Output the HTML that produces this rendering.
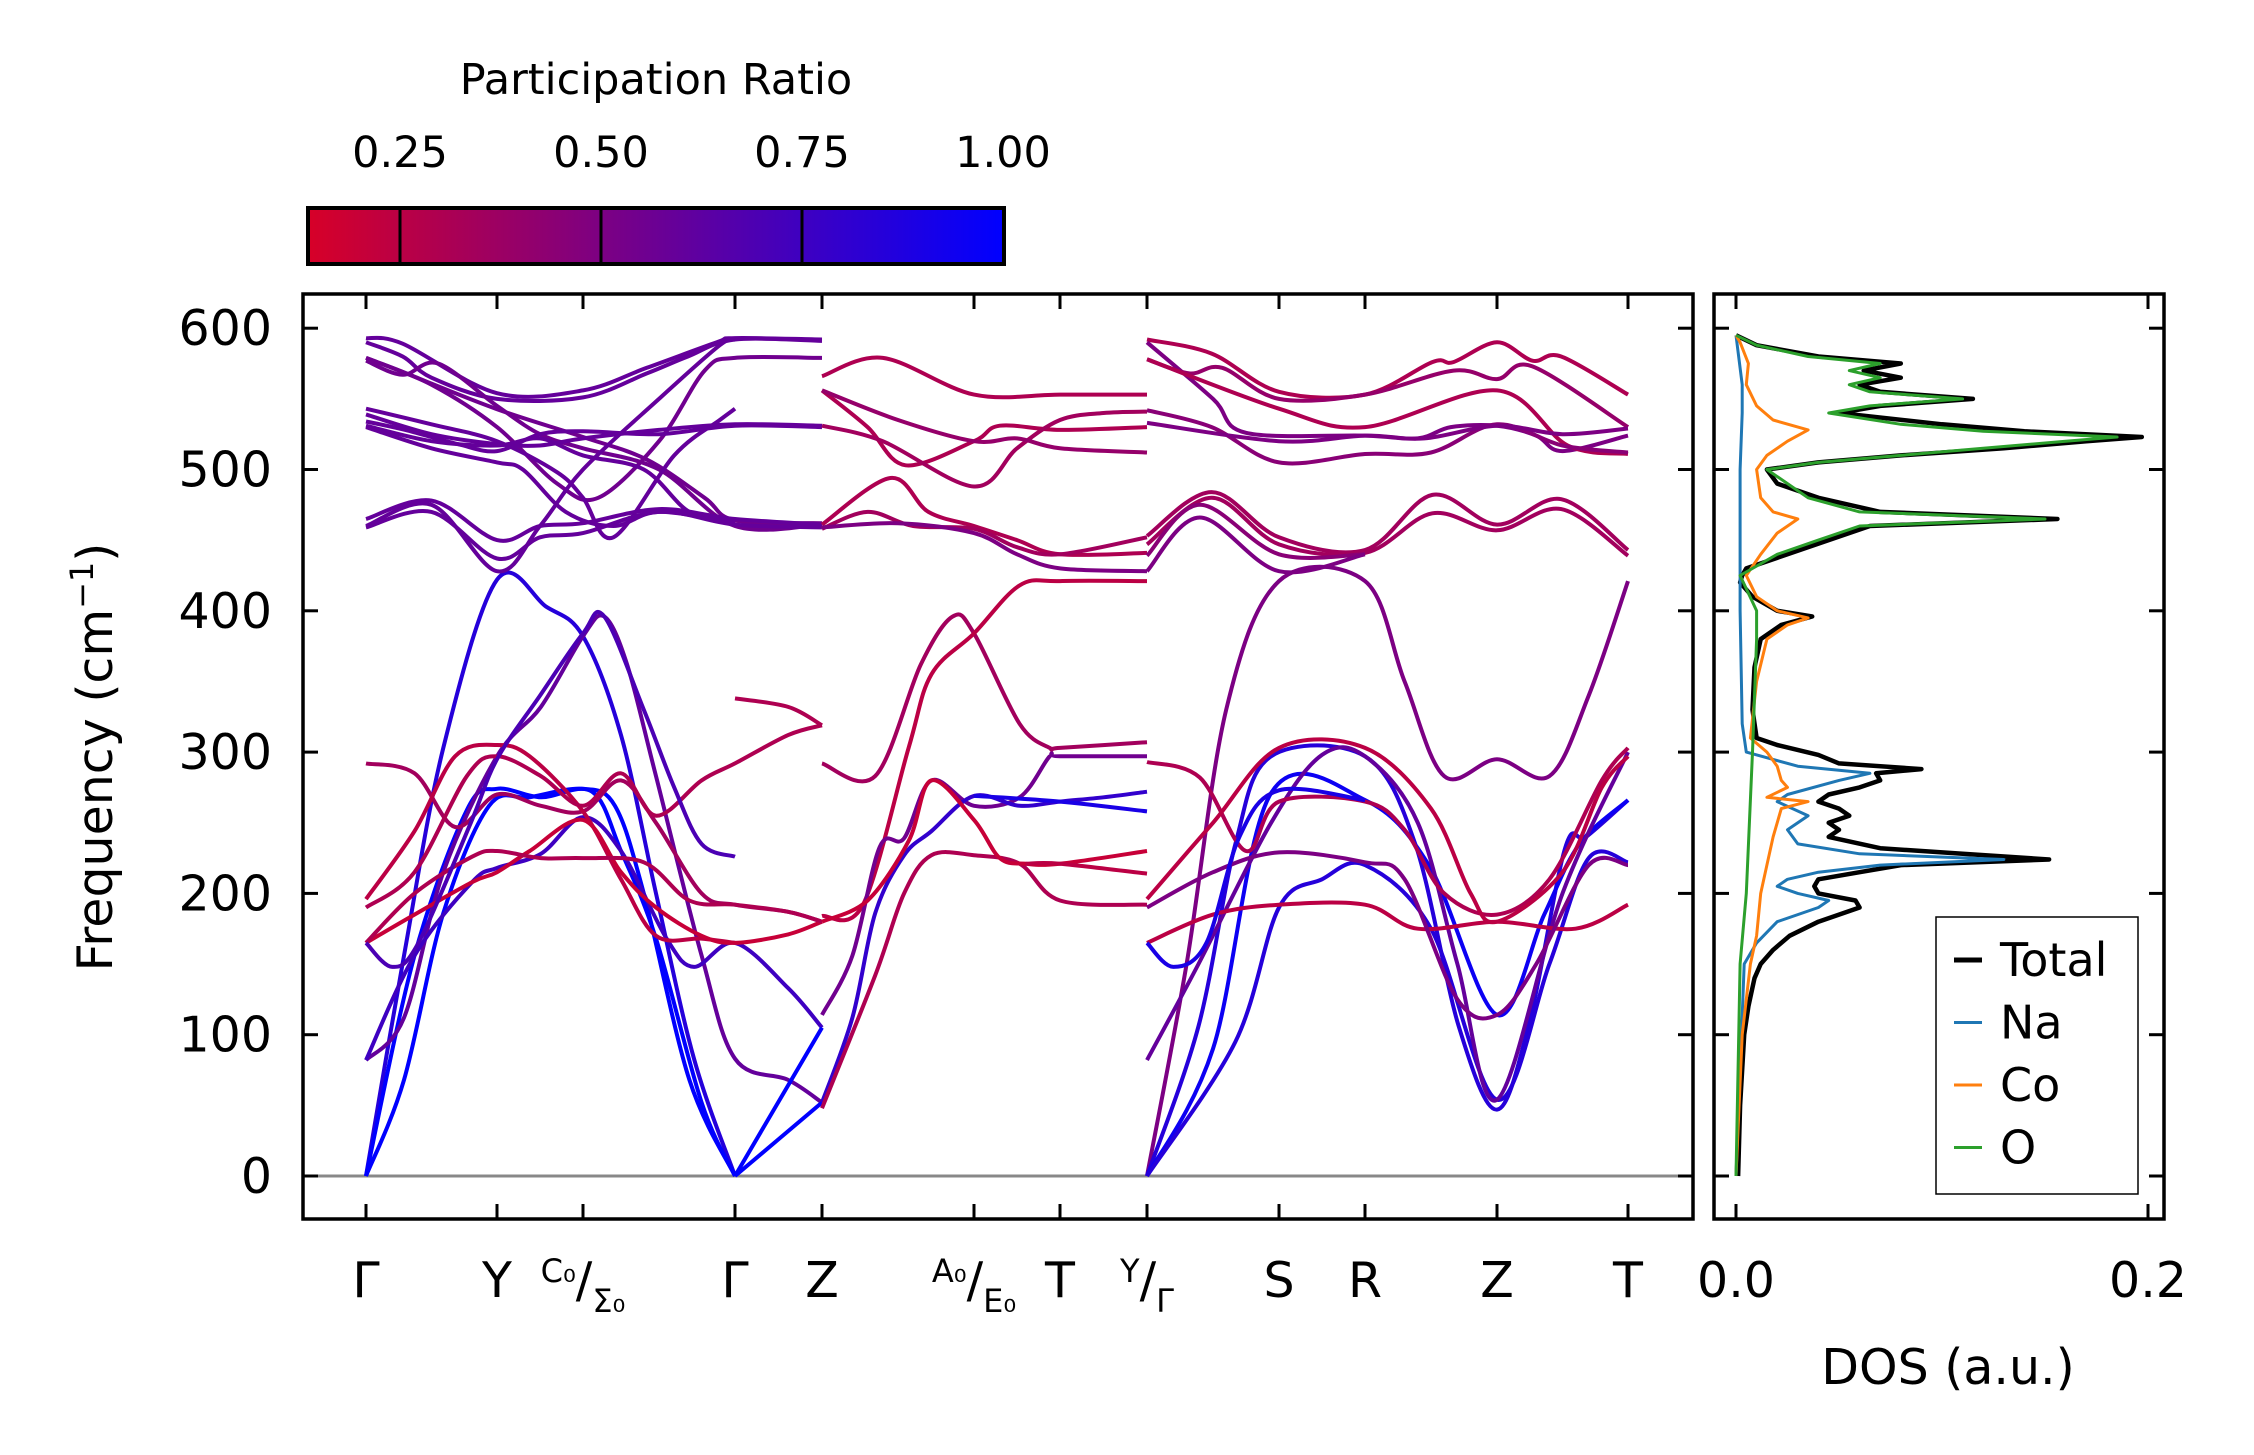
<!DOCTYPE html>
<html><head><meta charset="utf-8">
<style>
html,body{margin:0;padding:0;background:#fff;}
svg{display:block;}
text{font-family:"DejaVu Sans","Liberation Sans",sans-serif;fill:#000;}
</style></head>
<body>
<svg id="fig" width="2254" height="1455" viewBox="0 0 2254 1455" xmlns="http://www.w3.org/2000/svg">
<defs>
<linearGradient id="cbgrad" x1="0" x2="1" y1="0" y2="0">
<stop offset="0" stop-color="rgb(215,0,40)"/>
<stop offset="1" stop-color="rgb(0,0,255)"/>
</linearGradient>
<clipPath id="mainclip"><rect x="303" y="294" width="1390" height="925"/></clipPath>
<clipPath id="dosclip"><rect x="1714" y="294" width="450" height="925"/></clipPath>
</defs>
<g id="colorbar">
<text x="656" y="94" font-size="43" text-anchor="middle">Participation Ratio</text>
<rect x="308" y="208" width="696" height="56" fill="url(#cbgrad)" stroke="#000" stroke-width="4"/>
<g id="cbticks"></g>
</g>
<g id="main">
<line x1="303" x2="1693" y1="1176" y2="1176" stroke="#888" stroke-width="3"/>
<g id="bands" clip-path="url(#mainclip)"></g>
<rect x="303" y="294" width="1390" height="925" fill="none" stroke="#000" stroke-width="3.5"/>
<g id="mainticks"></g>
<text transform="translate(112,757) rotate(-90)" font-size="49" text-anchor="middle">Frequency (cm<tspan dy="-19" font-size="32">−1</tspan><tspan dy="19">)</tspan></text>
</g>
<g id="dos">
<g id="dosLines" clip-path="url(#dosclip)"></g>
<rect x="1714" y="294" width="450" height="925" fill="none" stroke="#000" stroke-width="3.5"/>
<g id="dosticks"></g>
<text x="1948" y="1384" font-size="49" text-anchor="middle">DOS (a.u.)</text>
<g id="legend">
<rect x="1936" y="917" width="202" height="277" fill="#fff" stroke="#000" stroke-width="1.5"/>
</g>
</g>
</svg>
<script>
// ---------- data ----------
const kTickPx = [366,497,583,735,822,974,1060,1147,1279,1365,1497,1628];
const kLabels = ["Γ","Y","C0/Σ0","Γ","Z","A0/E0","T","Y/Γ","S","R","Z","T"];
const yTicks = [0,100,200,300,400,500,600];
const cbTicks = [0.25,0.5,0.75,1.0];
const cbTickLabels = ["0.25","0.50","0.75","1.00"];

const bandPoints = [
[[0,0],[0.29,156],[0.59,303],[1,422],[1.57,403],[2,382],[2.25,312],[2.48,200],[2.73,83],[3,0]],
[[0,0],[0.37,156],[0.77,259],[1,274],[1.51,268],[2.06,272],[2.25,230],[2.48,168],[2.78,52],[3,0]],
[[0,0],[0.29,68],[0.59,186],[0.94,262],[1.38,268],[2,274],[2.21,262],[2.40,200],[2.70,68],[3,0]],
[[0,82],[0.29,112],[0.59,215],[1,297],[1.51,332],[2,382],[2.14,396],[2.29,362],[2.48,283],[2.78,156],[3,83],[3.61,68],[4,52]],
[[0,82],[0.37,156],[0.81,208],[1,218],[1.51,228],[2,254],[2.25,230],[2.55,168],[2.73,148],[3,165],[3.61,133],[4,105]],
[[0,292],[0.37,285],[0.68,247],[1,270],[1.51,262],[2,258],[2.25,280],[2.48,250],[2.78,200],[3,192],[3.61,187],[4,180]],
[[0,196],[0.37,244],[0.68,297],[1,305],[1.38,297],[2,258],[2.25,210],[2.48,170],[2.78,168],[3,165]],
[[0,190],[0.37,215],[0.77,283],[1,297],[1.51,283],[2,262],[2.25,285],[2.48,255],[2.78,280],[3,292],[3.61,312],[4,319]],
[[3,338],[3.61,332],[4,319]],
[[0,165],[0.37,185],[0.81,208],[1,215],[1.38,230],[2,252],[2.25,215],[2.48,190],[2.78,170],[3,165],[3.61,171],[4,180]],
[[0,165],[0.37,200],[0.81,226],[1,230],[1.51,225],[2,225],[2.40,222],[2.70,195],[3,192],[3.61,187],[4,180]],
[[0,165],[0.2,148],[0.4,165],[0.8,250],[1,295],[1.5,340],[2,384],[2.14,396],[2.4,330],[2.6,275],[2.78,235],[3,226]],
[[3,0],[4,105]],
[[3,0],[4,52]],
[[0,593],[0.28,589],[1,554],[2,556],[2.42,572],[2.88,590],[3,593],[4,592]],
[[0,590],[0.28,580],[0.5,565],[1,550],[2,551],[2.42,568],[2.69,580],[3,592],[4,591]],
[[0,579],[0.28,569],[0.99,543],[2,523],[2.42,507],[2.8,480],[3,464],[4,462]],
[[0,577],[0.28,567],[0.55,575],[1,545],[1.5,525],[2,515],[2.5,500],[3,460],[4,461]],
[[0,579],[0.5,560],[1,530],[1.7,490],[2.1,480],[2.5,520],[2.8,570],[3,579],[4,579]],
[[0,543],[0.5,532],[1,520],[1.7,498],[2,480],[2.2,452],[2.6,510],[2.9,535],[3,543]],
[[0,539],[0.5,525],[1,518],[1.5,517],[2,522],[2.5,528],[3,532],[4,531]],
[[0,534],[0.3,528],[0.7,518],[1,513],[1.5,525],[2,527],[2.5,525],[3,531],[4,530]],
[[0,531],[0.5,520],[1,517],[1.5,522],[2,510],[2.4,500],[2.7,470],[3,463]],
[[0,530],[0.5,515],[1,505],[1.3,500],[1.8,470],[2.2,460],[2.5,470],[3,462]],
[[0,465],[0.5,478],[1,450],[1.5,460],[2,462],[2.5,472],[3,465],[4,461]],
[[0,460],[0.5,475],[1,428],[1.5,460],[2,500],[2.5,550],[2.9,588],[3,592]],
[[0,459],[0.5,470],[1,437],[1.5,452],[2,455],[2.5,470],[3,461],[4,459]],
[[4,566],[4.4,579],[5,553],[6,553],[7,553]],
[[4,556],[4.3,530],[4.55,503],[5,520],[5.3,531],[6,528],[7,530]],
[[4,531],[4.4,520],[5,488],[5.5,515],[6,535],[6.5,540],[7,541]],
[[4,556],[4.5,535],[5,520],[5.5,522],[6,515],[7,512]],
[[4,461],[4.45,494],[4.7,470],[5,460],[5.5,450],[6,440],[7,441]],
[[4,458],[4.3,470],[4.6,460],[5,458],[5.5,445],[6,440],[7,452]],
[[4,459],[4.5,462],[5,455],[5.5,440],[6,430],[7,428]],
[[4,292],[4.35,283],[4.65,362],[4.86,396],[5,384],[5.53,320],[5.88,303],[6,303],[7,307]],
[[4,184],[4.27,192],[4.57,303],[4.72,355],[5,384],[5.53,418],[6,421],[7,421]],
[[4,114],[4.2,156],[4.38,233],[4.54,239],[4.72,280],[5,262],[5.53,268],[5.88,297],[6,297],[7,297]],
[[4,52],[4.2,112],[4.35,186],[4.54,227],[4.72,244],[5,269],[5.53,262],[6,265],[6.5,268],[7,272]],
[[4,48],[4.35,142],[4.54,200],[4.72,227],[5,227],[5.53,221],[6,195],[7,192]],
[[4,180],[4.3,195],[4.57,237],[4.72,280],[5,252],[5.3,225],[5.6,221],[6,221],[7,230]],
[[5.6,221],[6,221],[7,214]],
[[5,269],[6,265],[7,258]],
[[7,592],[7.49,582],[8,555],[9,553],[9.51,576],[9.67,576],[10,590],[10.27,577],[10.49,580],[11,553]],
[[7,590],[7.5,550],[7.75,526],[9,524],[9.4,522],[9.65,530],[10,531],[10.3,524],[10.5,513],[11,524]],
[[7,578],[7.32,568],[7.57,572],[8,550],[9,553],[9.67,570],[10,564],[10.27,573],[11,530]],
[[7,578],[8,543],[9,530],[10,556],[10.54,517],[11,511]],
[[7,542],[7.49,530],[8,505],[9,511],[9.5,512],[10,532],[10.5,517],[11,512]],
[[7,533],[8,520],[9,524],[9.45,522],[10,531],[10.5,525],[11,529]],
[[7,453],[7.49,484],[8,452],[9,443],[9.51,482],[10,461],[10.49,479],[11,443]],
[[7,447],[7.49,480],[8,447],[9,441],[9.51,469],[10,457],[10.49,472],[11,439]],
[[7,439],[7.4,475],[8,440],[9,440]],
[[7,428],[7.4,466],[8,428],[9,440]],
[[7,0],[7.3,150],[7.6,330],[8,421],[9,421],[9.3,350],[9.6,283],[10,295],[10.4,283],[10.7,340],[11,421]],
[[7,0],[7.39,106],[7.67,235],[7.94,297],[9,297],[9.38,235],[9.71,106],[10,47],[10.25,110],[10.52,232],[10.68,240],[11,266]],
[[7,0],[7.5,90],[7.94,271],[9,266],[9.49,219],[10,114],[10.36,185],[10.63,235],[11,266]],
[[7,0],[7.67,95],[8,190],[8.5,210],[9,220],[9.5,175],[10,54],[10.4,150],[10.7,225],[11,222]],
[[7,82],[7.39,150],[7.94,250],[8.5,298],[9,297],[9.4,250],[9.7,150],[10,54],[10.5,200],[11,300]],
[[7,293],[7.4,282],[7.75,230],[8,265],[9,265],[9.3,245],[9.6,200],[10,185],[10.4,210],[10.8,280],[11,303]],
[[7,196],[7.5,250],[8,303],[9,303],[9.5,260],[9.8,200],[10,180],[10.5,215],[10.8,275],[11,297]],
[[7,165],[7.5,185],[8,192],[9,192],[9.4,175],[10,180],[10.6,175],[11,192]],
[[7,190],[7.5,215],[8,229],[9,222],[9.3,210],[9.7,125],[10,114],[10.3,150],[10.7,220],[11,220]],
[[7,165],[7.2,148],[7.45,165],[7.7,240],[8,273],[9,266]]
];
const bandPR = [0.85,1.0,1.0,0.6,0.75,0.35,0.25,0.3,0.3,0.2,0.3,0.7,1.0,1.0,
0.6,0.6,0.55,0.55,0.55,0.6,0.6,0.6,0.6,0.6,0.6,0.6,0.6,
0.3,0.3,0.35,0.4,0.3,0.35,0.5,0.35,0.25,0.55,0.8,0.3,0.2,0.25,0.9,
0.3,0.5,0.4,0.3,0.45,0.5,0.35,0.35,0.45,0.5,
0.5,0.85,0.95,0.85,0.6,0.3,0.25,0.25,0.5,0.9];

const dosTicks = [0.0,0.2];
const totalF = [0,50,100,120,140,150,160,170,180,185,190,195,200,205,210,215,220,224,228,232,240,245,250,255,260,265,270,275,280,285,288,292,298,305,310,330,360,380,390,396,400,410,420,425,430,440,450,460,465,470,480,490,500,505,510,515,520,523,527,532,540,545,550,555,560,565,570,575,580,588,595];
const totalV = [0.001,0.002,0.004,0.006,0.009,0.012,0.018,0.026,0.04,0.05,0.06,0.058,0.04,0.038,0.04,0.06,0.08,0.152,0.11,0.07,0.045,0.05,0.045,0.055,0.05,0.04,0.045,0.06,0.07,0.068,0.09,0.05,0.04,0.02,0.01,0.008,0.009,0.012,0.022,0.037,0.02,0.008,0.002,0.003,0.005,0.025,0.045,0.065,0.156,0.07,0.04,0.02,0.015,0.04,0.08,0.13,0.17,0.197,0.14,0.1,0.05,0.07,0.115,0.07,0.06,0.08,0.062,0.08,0.04,0.01,0];
const naF = [0,150,165,180,190,195,200,205,210,215,220,224,228,235,245,255,265,270,280,285,290,300,320,400,500,540,560,595];
const naV = [0,0.004,0.01,0.02,0.04,0.045,0.03,0.02,0.025,0.04,0.07,0.13,0.06,0.03,0.025,0.035,0.02,0.025,0.05,0.065,0.03,0.005,0.003,0.002,0.002,0.003,0.003,0];
const coF = [0,100,150,170,200,220,240,250,260,265,268,275,280,290,300,310,350,380,390,395,400,410,425,440,455,465,470,480,500,510,520,528,535,545,560,575,590,595];
const coV = [0,0.003,0.007,0.01,0.012,0.015,0.018,0.02,0.022,0.035,0.015,0.025,0.022,0.02,0.015,0.007,0.01,0.015,0.025,0.035,0.02,0.01,0.005,0.012,0.02,0.03,0.018,0.012,0.01,0.015,0.025,0.035,0.018,0.01,0.005,0.006,0.002,0];
const oF = [0,150,200,300,380,400,425,440,450,460,465,470,480,490,500,505,510,515,520,523,527,532,540,545,550,555,560,565,570,575,580,588,595];
const oV = [0,0.002,0.005,0.008,0.01,0.01,0.002,0.02,0.04,0.06,0.15,0.06,0.035,0.025,0.015,0.04,0.08,0.12,0.16,0.185,0.12,0.08,0.045,0.065,0.11,0.065,0.055,0.07,0.055,0.07,0.035,0.01,0];
const legendLabels = ["Total","Na","Co","O"];
const legendColors = ["#000000","#1f77b4","#ff7f0e","#2ca02c"];

// ---------- scales ----------
const NS = "http://www.w3.org/2000/svg";
function yScale(f){ return 1176 - f*1.413; }
function kScale(q){
  const i = Math.min(Math.floor(q), kTickPx.length-2);
  const t = q - i;
  return kTickPx[i] + t*(kTickPx[i+1]-kTickPx[i]);
}
function cbScale(v){ return 400 + (v-0.25)*804; }
function dosScale(v){ return 1736 + v*2060; }
function prColor(p){
  const t = Math.max(0,Math.min(1,(p-0.136)/(1-0.136)));
  const r = Math.round(215*(1-t)), b = Math.round(40+215*t);
  return `rgb(${r},0,${b})`;
}
function mk(tag, attrs, parent){
  const e = document.createElementNS(NS, tag);
  for (const k in attrs) e.setAttribute(k, attrs[k]);
  parent.appendChild(e);
  return e;
}
function smoothPath(pts){
  let d = `M${pts[0][0].toFixed(1)},${pts[0][1].toFixed(1)}`;
  for (let i=0;i<pts.length-1;i++){
    const p0 = pts[Math.max(0,i-1)], p1 = pts[i], p2 = pts[i+1], p3 = pts[Math.min(pts.length-1,i+2)];
    const c1x = p1[0]+(p2[0]-p0[0])/6, c1y = p1[1]+(p2[1]-p0[1])/6;
    const c2x = p2[0]-(p3[0]-p1[0])/6, c2y = p2[1]-(p3[1]-p1[1])/6;
    d += ` C${c1x.toFixed(1)},${c1y.toFixed(1)} ${c2x.toFixed(1)},${c2y.toFixed(1)} ${p2[0].toFixed(1)},${p2[1].toFixed(1)}`;
  }
  return d;
}

// ---------- colorbar ----------
const cbG = document.getElementById('cbticks');
cbTicks.forEach((v,i)=>{
  const x = cbScale(v);
  if (v < 1) {
    const l = mk('line',{x1:x,x2:x,y1:208,y2:264,stroke:'#000','stroke-width':3},cbG);
    
    
  }
  const t = mk('text',{x:x,y:167,'font-size':43,'text-anchor':'middle'},cbG);
  t.textContent = cbTickLabels[i];
  
  
});

// ---------- bands ----------
const bandsG = document.getElementById('bands');
bandPoints.forEach((pts,i)=>{
  const px = pts.map(p=>[kScale(p[0]), yScale(p[1])]);
  const p = mk('path',{d:smoothPath(px),fill:'none',stroke:prColor(bandPR[i]),'stroke-width':4,'stroke-linejoin':'round'},bandsG);
  
  
});

// ---------- main ticks ----------
const mt = document.getElementById('mainticks');
yTicks.forEach(v=>{
  const y = yScale(v);
  mk('line',{x1:303,x2:318,y1:y,y2:y,stroke:'#000','stroke-width':3},mt);
  mk('line',{x1:1678,x2:1693,y1:y,y2:y,stroke:'#000','stroke-width':3},mt);
  mk('line',{x1:1714,x2:1729,y1:y,y2:y,stroke:'#000','stroke-width':3},mt);
  mk('line',{x1:2149,x2:2164,y1:y,y2:y,stroke:'#000','stroke-width':3},mt);
  const t = mk('text',{x:272,y:y+17,'font-size':49,'text-anchor':'end'},mt);
  t.textContent = String(v);
  
  
});
kTickPx.forEach((x,i)=>{
  mk('line',{x1:x,x2:x,y1:1204,y2:1219,stroke:'#000','stroke-width':3},mt);
  mk('line',{x1:x,x2:x,y1:294,y2:309,stroke:'#000','stroke-width':3},mt);
  const lab = kLabels[i];
  let t;
  if (lab.includes('/')) {
    const parts = lab.split('/');
    t = mk('text',{x:x,y:1297,'text-anchor':'middle','font-size':49},mt);
    const a = document.createElementNS(NS,'tspan'); a.setAttribute('font-size','32'); a.setAttribute('dy','-15'); a.textContent = parts[0].replace('0','₀');
    const s = document.createElementNS(NS,'tspan'); s.setAttribute('dy','15'); s.textContent='/';
    const b = document.createElementNS(NS,'tspan'); b.setAttribute('font-size','32'); b.setAttribute('dy','15'); b.textContent = parts[1].replace('0','₀');
    t.appendChild(a); t.appendChild(s); t.appendChild(b);
  } else {
    t = mk('text',{x:x,y:1297,'text-anchor':'middle','font-size':49},mt);
    t.textContent = lab;
  }
  
  
});

// ---------- DOS ----------
const dl = document.getElementById('dosLines');
function dosLine(F,V,color,w,name){
  const d = F.map((f,i)=>`${i?'L':'M'}${dosScale(V[i]).toFixed(1)},${yScale(f).toFixed(1)}`).join(' ');
  const p = mk('path',{d:d,fill:'none',stroke:color,'stroke-width':w,'stroke-linejoin':'round'},dl);
  
  
}
dosLine(totalF,totalV,'#000',4.5,'dos-total-line');
dosLine(naF,naV,'#1f77b4',3,'dos-na-line');
dosLine(coF,coV,'#ff7f0e',3,'dos-co-line');
dosLine(oF,oV,'#2ca02c',3,'dos-o-line');
const dt = document.getElementById('dosticks');
dosTicks.forEach(v=>{
  const x = dosScale(v);
  mk('line',{x1:x,x2:x,y1:1204,y2:1219,stroke:'#000','stroke-width':3},dt);
  mk('line',{x1:x,x2:x,y1:294,y2:309,stroke:'#000','stroke-width':3},dt);
  const t = mk('text',{x:x,y:1297,'font-size':49,'text-anchor':'middle'},dt);
  t.textContent = v.toFixed(1);
  
  
});
const lg = document.getElementById('legend');
legendLabels.forEach((lab,i)=>{
  const y = 960 + i*62.5;
  const l = mk('line',{x1:1954,x2:1982,y1:y,y2:y,stroke:legendColors[i],'stroke-width':i===0?5:3},lg);
  
  
  const t = mk('text',{x:2000,y:y+16,'font-size':46},lg);
  t.textContent = lab;
  
  
});
</script>
</body></html>
